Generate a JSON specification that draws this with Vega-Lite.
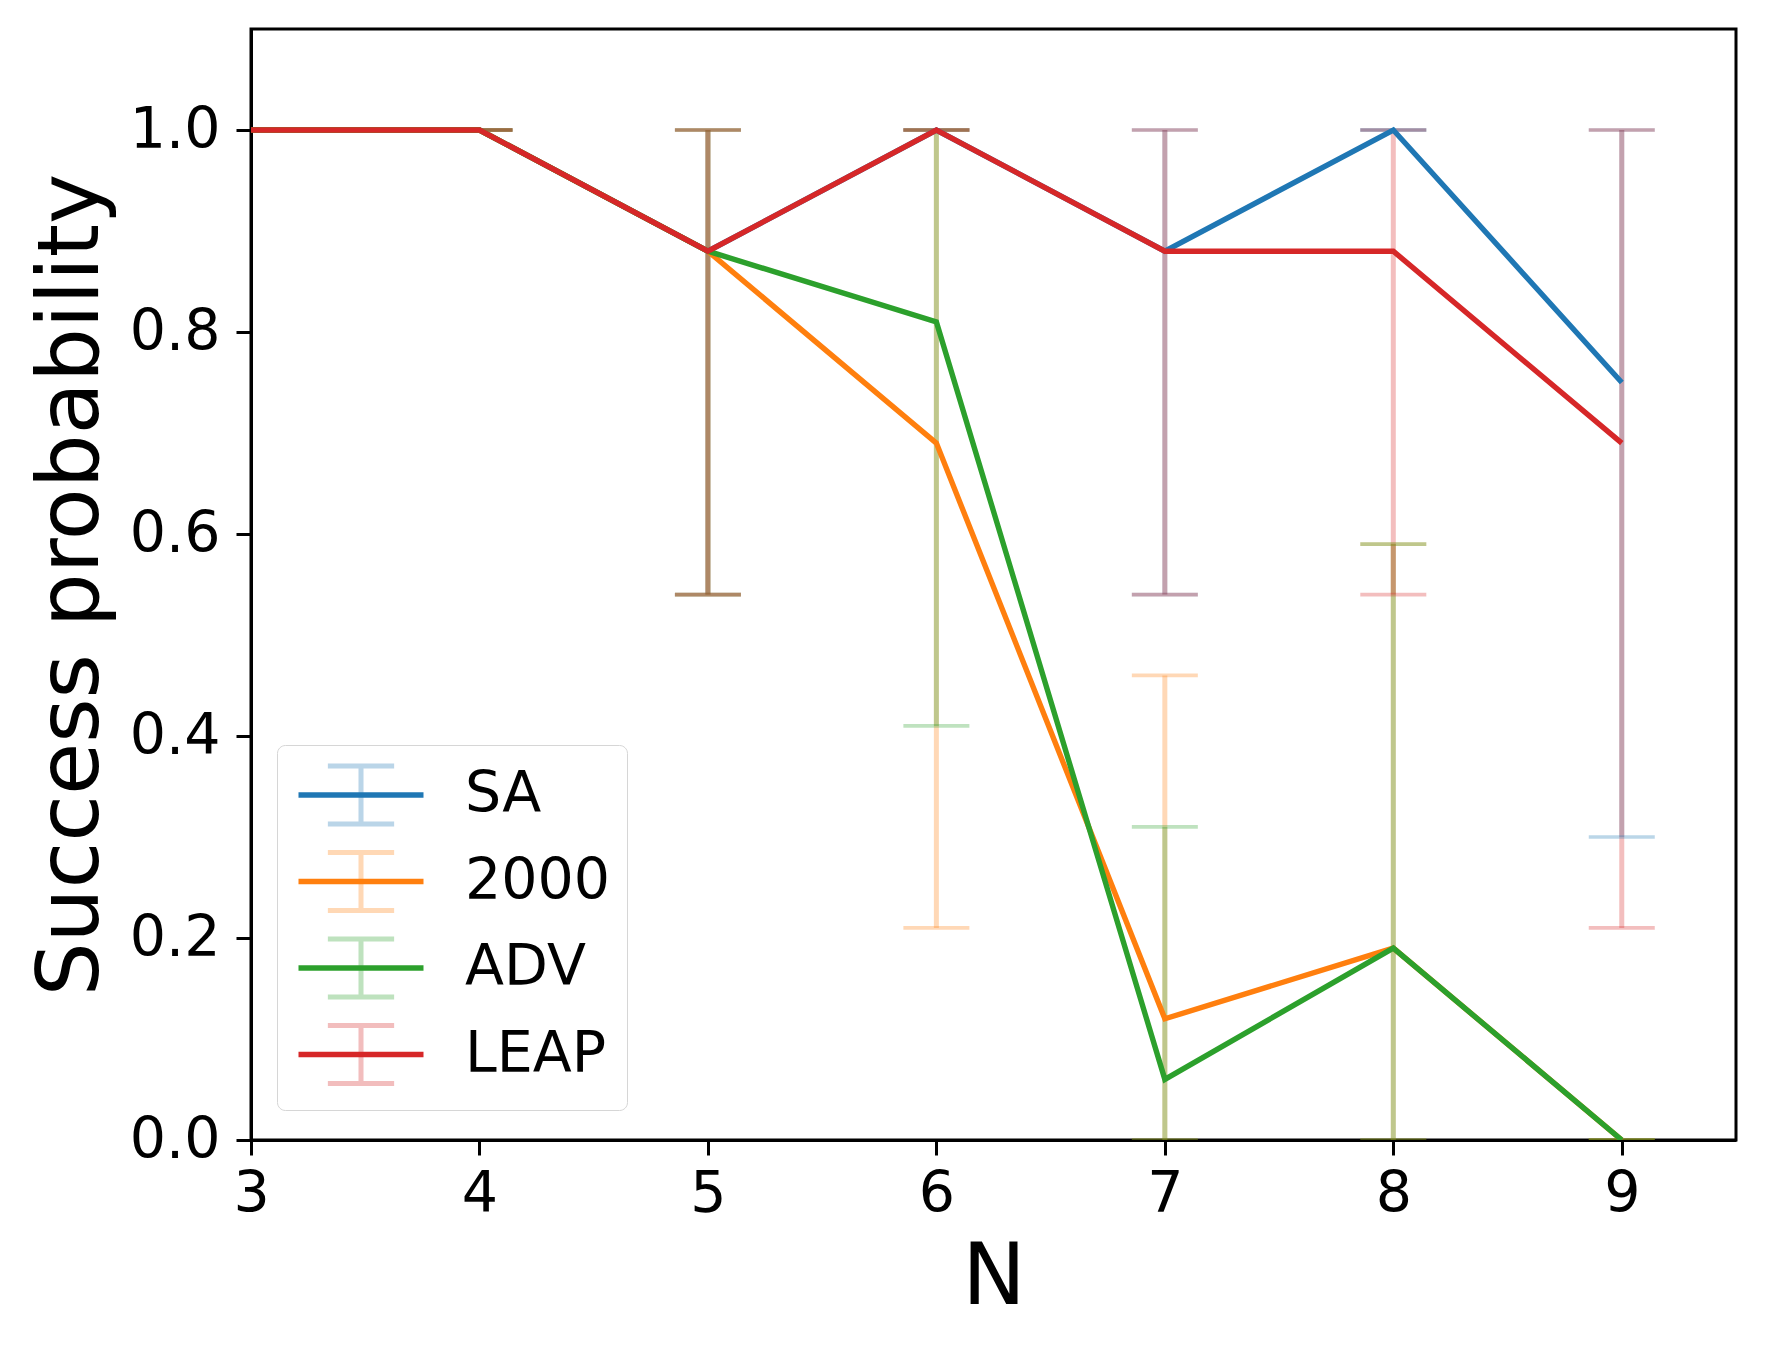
{
  "$schema": "https://vega.github.io/schema/vega-lite/v6.json",
  "width": 1485,
  "height": 1111,
  "autosize": {"type": "none"},
  "padding": {"left": 251, "top": 29, "right": 31, "bottom": 212},
  "background": "white",
  "data": {
    "values": [
      {"series": "SA", "N": 3, "p": 1.0, "lo": 1.0, "hi": 1.0},
      {"series": "SA", "N": 4, "p": 1.0, "lo": 1.0, "hi": 1.0},
      {"series": "SA", "N": 5, "p": 0.88, "lo": 0.54, "hi": 1.0},
      {"series": "SA", "N": 6, "p": 1.0, "lo": 1.0, "hi": 1.0},
      {"series": "SA", "N": 7, "p": 0.88, "lo": 0.54, "hi": 1.0},
      {"series": "SA", "N": 8, "p": 1.0, "lo": 1.0, "hi": 1.0},
      {"series": "SA", "N": 9, "p": 0.75, "lo": 0.3, "hi": 1.0},
      {"series": "2000", "N": 3, "p": 1.0, "lo": 1.0, "hi": 1.0},
      {"series": "2000", "N": 4, "p": 1.0, "lo": 1.0, "hi": 1.0},
      {"series": "2000", "N": 5, "p": 0.88, "lo": 0.54, "hi": 1.0},
      {"series": "2000", "N": 6, "p": 0.69, "lo": 0.21, "hi": 1.0},
      {"series": "2000", "N": 7, "p": 0.12, "lo": 0.0, "hi": 0.46},
      {"series": "2000", "N": 8, "p": 0.19, "lo": 0.0, "hi": 0.59},
      {"series": "2000", "N": 9, "p": 0.0, "lo": 0.0, "hi": 0.0},
      {"series": "ADV", "N": 3, "p": 1.0, "lo": 1.0, "hi": 1.0},
      {"series": "ADV", "N": 4, "p": 1.0, "lo": 1.0, "hi": 1.0},
      {"series": "ADV", "N": 5, "p": 0.88, "lo": 0.54, "hi": 1.0},
      {"series": "ADV", "N": 6, "p": 0.81, "lo": 0.41, "hi": 1.0},
      {"series": "ADV", "N": 7, "p": 0.06, "lo": 0.0, "hi": 0.31},
      {"series": "ADV", "N": 8, "p": 0.19, "lo": 0.0, "hi": 0.59},
      {"series": "ADV", "N": 9, "p": 0.0, "lo": 0.0, "hi": 0.0},
      {"series": "LEAP", "N": 3, "p": 1.0, "lo": 1.0, "hi": 1.0},
      {"series": "LEAP", "N": 4, "p": 1.0, "lo": 1.0, "hi": 1.0},
      {"series": "LEAP", "N": 5, "p": 0.88, "lo": 0.54, "hi": 1.0},
      {"series": "LEAP", "N": 6, "p": 1.0, "lo": 1.0, "hi": 1.0},
      {"series": "LEAP", "N": 7, "p": 0.88, "lo": 0.54, "hi": 1.0},
      {"series": "LEAP", "N": 8, "p": 0.88, "lo": 0.54, "hi": 1.0},
      {"series": "LEAP", "N": 9, "p": 0.69, "lo": 0.21, "hi": 1.0}
    ]
  },
  "encoding": {
    "x": {
      "field": "N",
      "type": "quantitative",
      "scale": {"domain": [3, 9.5], "nice": false, "zero": false},
      "axis": {"values": [3, 4, 5, 6, 7, 8, 9], "format": "d", "title": "N"}
    }
  },
  "layer": [
    {
      "mark": {"type": "rule", "strokeWidth": 5, "opacity": 0.3, "clip": true},
      "encoding": {
        "y": {
          "field": "lo",
          "type": "quantitative",
          "scale": {"domain": [0, 1.1], "nice": false},
          "axis": {"values": [0, 0.2, 0.4, 0.6, 0.8, 1.0], "format": ".1f", "title": "Success probability"}
        },
        "y2": {"field": "hi"},
        "color": {
          "field": "series",
          "type": "nominal",
          "scale": {"domain": ["SA", "2000", "ADV", "LEAP"], "range": ["#1f77b4", "#ff7f0e", "#2ca02c", "#d62728"]},
          "legend": {
            "orient": "none",
            "legendX": 26,
            "legendY": 716,
            "title": null,
            "symbolType": "M0,-0.93V0.93M-1.06,-0.93H1.06M-1.06,0.93H1.06",
            "symbolSize": 3906,
            "symbolStrokeWidth": 5,
            "symbolOpacity": 0.3,
            "symbolOffset": 34,
            "fillColor": "white",
            "strokeColor": "#d6d6d6",
            "cornerRadius": 8,
            "padding": 16,
            "rowPadding": 6.5,
            "labelOffset": 70
          }
        }
      }
    },
    {
      "mark": {"type": "tick", "orient": "horizontal", "size": 66, "thickness": 3.6, "opacity": 0.3, "clip": true},
      "encoding": {
        "y": {"field": "lo", "type": "quantitative"},
        "color": {"field": "series", "type": "nominal"}
      }
    },
    {
      "mark": {"type": "tick", "orient": "horizontal", "size": 66, "thickness": 3.6, "opacity": 0.3, "clip": true},
      "encoding": {
        "y": {"field": "hi", "type": "quantitative"},
        "color": {"field": "series", "type": "nominal"}
      }
    },
    {
      "mark": {"type": "line", "strokeWidth": 5.4, "clip": true},
      "encoding": {
        "y": {"field": "p", "type": "quantitative"},
        "stroke": {
          "field": "series",
          "type": "nominal",
          "sort": null,
          "scale": {"range": ["#1f77b4", "#ff7f0e", "#2ca02c", "#d62728"]},
          "legend": {
            "orient": "none",
            "legendX": 26,
            "legendY": 716,
            "title": null,
            "symbolType": "M-2,0H2M0,-0.93L0,-0.93M0,0.93L0,0.93",
            "symbolSize": 3906,
            "symbolStrokeWidth": 5.4,
            "symbolOffset": 34,
            "padding": 16,
            "rowPadding": 6.5,
            "labelOffset": 70,
            "labelExpr": "''"
          }
        }
      }
    }
  ],
  "config": {
    "view": {"stroke": "black", "strokeWidth": 3},
    "font": "DejaVu Sans",
    "axis": {
      "grid": false,
      "labelFlush": false,
      "domainColor": "black",
      "domainWidth": 3,
      "tickColor": "black",
      "tickWidth": 3,
      "tickSize": 15,
      "labelFont": "DejaVu Sans",
      "labelFontSize": 57,
      "labelColor": "black",
      "titleFont": "DejaVu Sans",
      "titleFontSize": 85,
      "titleFontWeight": "normal",
      "titleColor": "black"
    },
    "axisX": {"labelPadding": 11, "titlePadding": 14},
    "axisY": {"labelPadding": 16, "titlePadding": 14},
    "legend": {
      "labelFont": "DejaVu Sans",
      "labelFontSize": 57,
      "labelColor": "black",
      "labelLimit": 400
    }
  }
}
